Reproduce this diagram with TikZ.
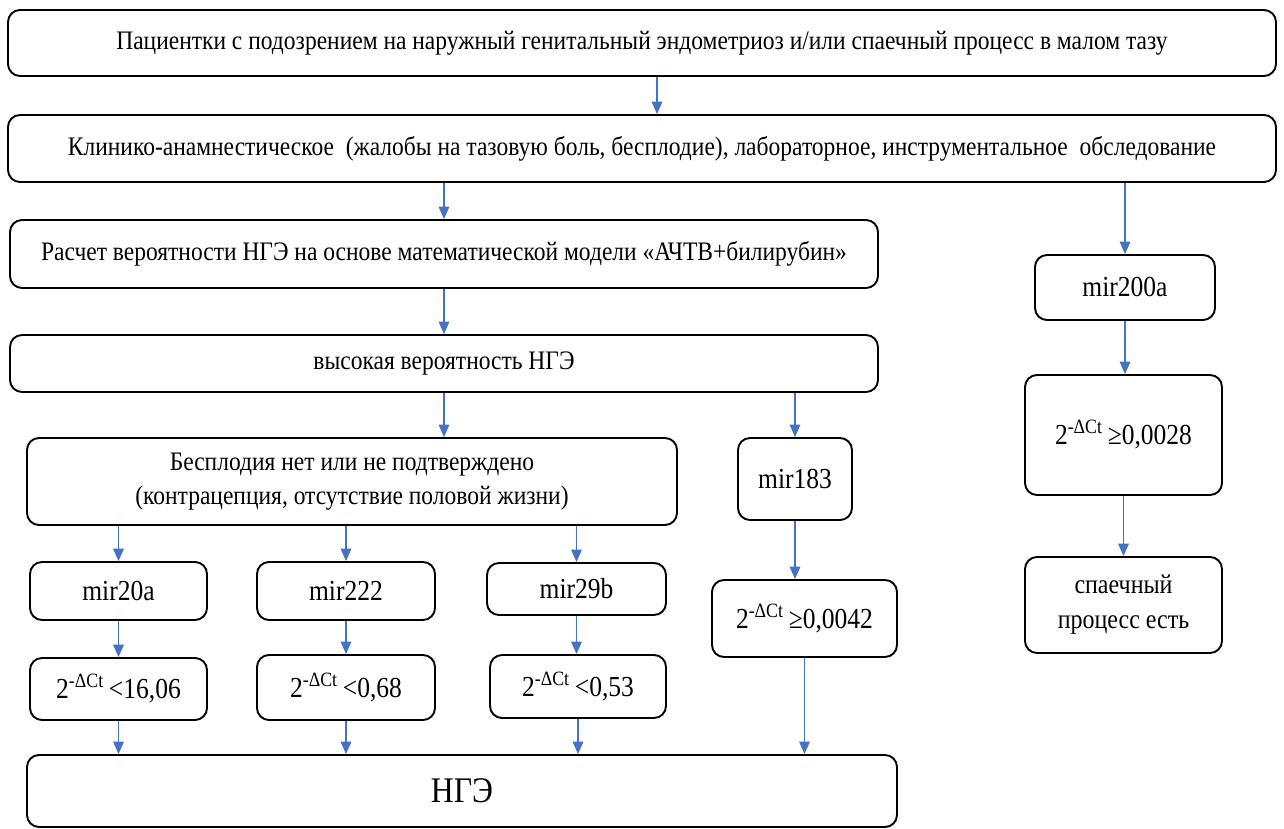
\documentclass[tikz,border=0pt]{standalone}
\usepackage{fontspec}
\setmainfont{Liberation Serif}[FakeStretch=0.88]
\usetikzlibrary{arrows.meta}

\definecolor{arrblue}{RGB}{68,114,196}
\tikzset{
  box/.style={draw, line width=1.1pt, rounded corners=0.24cm, align=center, inner sep=2pt},
  arr/.style={->, draw=arrblue, line width=0.6pt},
  mirbox/.style={box, font=\fontsize{16.5}{20}\selectfont},
}

\begin{document}
\begin{tikzpicture}[>={Triangle[length=7pt,width=6pt]}, font=\fontsize{15.2}{19}\selectfont]

\useasboundingbox (0,0) rectangle (25.68,-16.58);

% top
\node[box, minimum width=25.36cm, minimum height=1.32cm] (pat) at (12.84,-0.86)
  {Пациентки с подозрением на наружный генитальный эндометриоз и/или спаечный процесс в малом тазу};
\node[box, minimum width=25.36cm, minimum height=1.34cm] (exam) at (12.84,-2.97)
  {Клинико-анамнестическое \ (жалобы на тазовую боль, бесплодие), лабораторное, инструментальное \ обследование};

% left branch
\node[box, minimum width=17.36cm, minimum height=1.36cm] (calc) at (8.88,-5.08)
  {Расчет вероятности НГЭ на основе математической модели «АЧТВ+билирубин»};
\node[box, minimum width=17.36cm, minimum height=1.14cm] (high) at (8.88,-7.27)
  {высокая вероятность НГЭ};
\node[box, minimum width=13.0cm, minimum height=1.74cm] (infert) at (7.04,-9.63)
  {Бесплодия нет или не подтверждено\\(контрацепция, отсутствие половой жизни)};
\node[mirbox, minimum width=2.28cm, minimum height=1.64cm] (m183) at (15.9,-9.58) {mir183};
\node[mirbox, minimum width=3.7cm, minimum height=1.54cm] (t183) at (16.09,-12.37)
  {2\textsuperscript{-ΔCt}\,≥0,0042};

\node[mirbox, minimum width=3.54cm, minimum height=1.16cm] (m20a) at (2.37,-11.82) {mir20a};
\node[mirbox, minimum width=3.56cm, minimum height=1.16cm] (m222) at (6.92,-11.82) {mir222};
\node[mirbox, minimum width=3.58cm, minimum height=1.04cm] (m29b) at (11.53,-11.78) {mir29b};
\node[mirbox, minimum width=3.54cm, minimum height=1.24cm] (t20a) at (2.37,-13.78)
  {2\textsuperscript{-ΔCt}\,<16,06};
\node[mirbox, minimum width=3.56cm, minimum height=1.30cm] (t222) at (6.92,-13.75)
  {2\textsuperscript{-ΔCt}\,<0,68};
\node[mirbox, minimum width=3.52cm, minimum height=1.26cm] (t29b) at (11.56,-13.73)
  {2\textsuperscript{-ΔCt}\,<0,53};

\node[box, minimum width=17.4cm, minimum height=1.44cm, font=\fontsize{20.5}{24}\selectfont] (nge) at (9.24,-15.82) {НГЭ};

% right branch
\node[mirbox, minimum width=3.6cm, minimum height=1.3cm] (m200) at (22.5,-5.75) {mir200a};
\node[mirbox, minimum width=3.94cm, minimum height=2.4cm] (t200) at (22.47,-8.7)
  {2\textsuperscript{-ΔCt}\,≥0,0028};
\node[box, minimum width=3.94cm, minimum height=1.92cm, font=\fontsize{15.5}{20}\selectfont] (adh) at (22.47,-12.1)
  {спаечный\\процесс есть};

% arrows
\draw[arr] ([xshift=0.3cm]pat.south) -- ([xshift=0.3cm]exam.north);
\draw[arr] (exam.south -| calc) -- (calc.north);
\draw[arr] (exam.south -| m200) -- (m200.north);
\draw[arr] (calc.south) -- (high.north);
\draw[arr] (high.south) -- (high.south |- infert.north);
\draw[arr] (high.south -| m183) -- (m183.north);
\draw[arr] (m183.south) -- (m183.south |- t183.north);
\draw[arr] (t183.south) -- (t183.south |- nge.north);

\foreach \m/\t in {m20a/t20a, m222/t222, m29b/t29b} {
  \draw[arr] (infert.south -| \m) -- (\m.north);
  \draw[arr] (\m.south) -- (\m.south |- \t.north);
  \draw[arr] (\t.south) -- (\t.south |- nge.north);
}

\draw[arr] (m200.south) -- (m200.south |- t200.north);
\draw[arr] (t200.south) -- (t200.south |- adh.north);

\end{tikzpicture}
\end{document}
